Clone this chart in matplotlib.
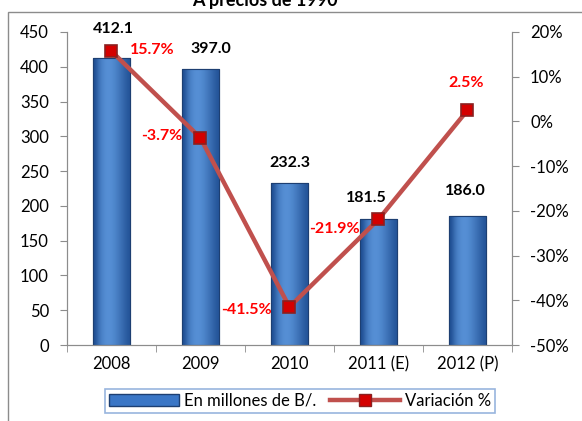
import numpy as np
import matplotlib.pyplot as plt
from matplotlib.patches import Patch, Rectangle
from matplotlib.lines import Line2D

plt.rcParams['font.family'] = ['Lato', 'DejaVu Sans']

years = ['2008', '2009', '2010', '2011 (E)', '2012 (P)']
millones = [412.1, 397.0, 232.3, 181.5, 186.0]
variacion = [15.7, -3.7, -41.5, -21.9, 2.5]
var_labels = ['15.7%', '-3.7%', '-41.5%', '-21.9%', '2.5%']

fig = plt.figure(figsize=(5.82, 4.21), dpi=100)
ax = fig.add_axes([0.115, 0.1805, 0.7647, 0.7435])
ax2 = ax.twinx()

# chart border
fig.patches.append(Rectangle((8 / 582, -0.1), 1.2, 1 - 12 / 421 + 0.1, transform=fig.transFigure,
                             fill=False, edgecolor='#8c8c8c', linewidth=1.0))
fig.text(265 / 582, 1 - 6 / 421, 'A precios de 1990', ha='center', va='baseline',
         fontsize=13, fontweight='bold')

x = np.arange(len(years))
width = 0.42
bars = ax.bar(x, millones, width, color='#3a76c6', edgecolor='#1d3f72', linewidth=0.8, zorder=2)

# bevel-like horizontal gradient inside each bar
grad = np.array([0.0, 0.55, 0.8, 0.9, 0.85, 0.7, 0.5, 0.3, 0.1])
cmap = plt.matplotlib.colors.LinearSegmentedColormap.from_list('b', ['#1e4d91', '#5d98de'])
# label offsets in pixels (dx, dy) from bar top centre
bar_offsets = [(1.5, 29), (10, 20), (0, 20), (-12, 21), (-2, 25)]
for b, (dx, dy) in zip(bars, bar_offsets):
    x0, w, h = b.get_x(), b.get_width(), b.get_height()
    im = ax.imshow(grad[None, :], extent=[x0, x0 + w, 0, h], aspect='auto', cmap=cmap,
                   vmin=0, vmax=1, zorder=2.5, interpolation='bicubic')
    im.set_clip_path(b)
    ax.add_patch(Rectangle((x0, 0), w, h, fill=False, edgecolor='#1d3f72', linewidth=0.8, zorder=2.6))
    ax.annotate(f'{h:.1f}', (x0 + w / 2, h), xytext=(dx * 0.72, dy * 0.72),
                textcoords='offset points', ha='center', va='center',
                fontsize=11.5, fontweight='bold')

ax.set_xlim(-0.5, len(years) - 0.5)
ax.set_ylim(0, 450)
ax.set_yticks(range(0, 451, 50))
ax.set_xticks(x)
ax.set_xticklabels(years)
ax.set_xticks(np.arange(-0.5, len(years), 1), minor=True)
ax.tick_params(axis='x', which='major', length=0, pad=8, labelsize=12)
ax.tick_params(axis='x', which='minor', length=5, color='#8c8c8c', direction='out')
ax.tick_params(axis='y', length=5, color='#8c8c8c', labelsize=12, pad=8)

ax2.plot(x, variacion, color='#c0504d', linewidth=3.2, marker='s', markersize=8.5,
         markerfacecolor='#d40000', markeredgecolor='#8b2020', markeredgewidth=1.2, zorder=3)
ax2.set_ylim(-50, 20)
ax2.set_yticks(range(-50, 21, 10))
ax2.set_yticklabels([f'{v}%' for v in range(-50, 21, 10)])
ax2.tick_params(axis='y', length=5, color='#8c8c8c', labelsize=12, pad=8)

# label offsets in pixels (dx, dy) from each marker
line_offsets = [(41, 1.5), (-39, 2), (-43, -3), (-44, -10), (-1, 27)]
for xi, v, lab, (dx, dy) in zip(x, variacion, var_labels, line_offsets):
    ax2.annotate(lab, (xi, v), xytext=(dx * 0.72, dy * 0.72), textcoords='offset points',
                 ha='center', va='center', color='#ff0000', fontsize=11.5, fontweight='bold')

for a in (ax, ax2):
    a.spines['top'].set_visible(False)
    for s in ('left', 'right', 'bottom'):
        a.spines[s].set_color('#8c8c8c')
ax.set_zorder(ax2.get_zorder() - 1)
ax2.patch.set_visible(False)

handles = [Patch(facecolor='#3a76c6', edgecolor='#1d3f72'),
           Line2D([], [], color='#c0504d', linewidth=3.2, marker='s', markersize=8.5,
                  markerfacecolor='#d40000', markeredgecolor='#8b2020')]
leg = fig.legend(handles, ['En millones de B/.', 'Variación %'], loc='center',
                 bbox_to_anchor=(300 / 582, 1 - 401 / 421), ncol=2, frameon=True,
                 fancybox=False, fontsize=12, handlelength=4.2, handletextpad=0.3,
                 columnspacing=0.8, borderpad=0.25)
leg.get_frame().set_edgecolor('#7fa2d6')
leg.get_frame().set_linewidth(1.2)

fig.savefig('out.png', dpi=100)
